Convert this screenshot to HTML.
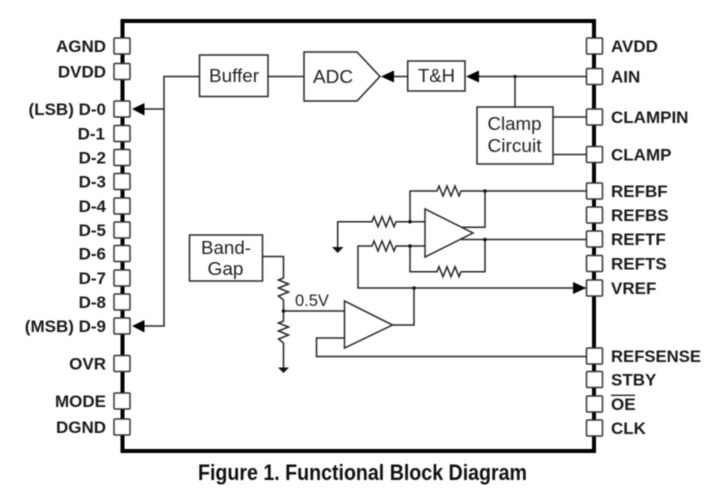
<!DOCTYPE html>
<html><head><meta charset="utf-8"><style>
html,body{margin:0;padding:0;background:#fff;width:720px;height:495px;overflow:hidden}
svg{display:block;filter:blur(.4px)}
text{font-family:"Liberation Sans",Arial,sans-serif;fill:#1c1c1c}
.l{font-weight:700;font-size:17px;text-anchor:end;fill:#1a1a1a}
.r{font-weight:700;font-size:17px;fill:#1a1a1a}
.n{font-size:18.5px;text-anchor:middle;fill:#222}
.w{fill:none;stroke:#262626;stroke-width:1.5}
.b{fill:#fff;stroke:#262626;stroke-width:1.5}
.p{fill:#fff;stroke:#333;stroke-width:1.5}
.a{fill:#000}
.d{fill:#111}
</style></head><body>
<svg width="720" height="495" viewBox="0 0 720 495" xmlns="http://www.w3.org/2000/svg">
<rect x="122.500" y="21" width="471.500" height="430" fill="none" stroke="#000" stroke-width="4"/>

<!-- left pins -->
<g class="p">
<rect x="114" y="38" width="16" height="16" rx="1"/>
<rect x="114" y="63.500" width="16" height="16" rx="1"/>
<rect x="114" y="101" width="16" height="16" rx="1"/>
<rect x="114" y="125.500" width="16" height="16" rx="1"/>
<rect x="114" y="149.500" width="16" height="16" rx="1"/>
<rect x="114" y="173.500" width="16" height="16" rx="1"/>
<rect x="114" y="198" width="16" height="16" rx="1"/>
<rect x="114" y="222" width="16" height="16" rx="1"/>
<rect x="114" y="245.500" width="16" height="16" rx="1"/>
<rect x="114" y="270" width="16" height="16" rx="1"/>
<rect x="114" y="294" width="16" height="16" rx="1"/>
<rect x="114" y="318" width="16" height="16" rx="1"/>
<rect x="114" y="355.500" width="16" height="16" rx="1"/>
<rect x="114" y="393" width="16" height="16" rx="1"/>
<rect x="114" y="419" width="16" height="16" rx="1"/>
</g>
<!-- right pins -->
<g class="p">
<rect x="586.500" y="38" width="16" height="16" rx="1"/>
<rect x="586.500" y="68.500" width="16" height="16" rx="1"/>
<rect x="586.500" y="109" width="16" height="16" rx="1"/>
<rect x="586.500" y="146.500" width="16" height="16" rx="1"/>
<rect x="586.500" y="183" width="16" height="16" rx="1"/>
<rect x="586.500" y="207" width="16" height="16" rx="1"/>
<rect x="586.500" y="231" width="16" height="16" rx="1"/>
<rect x="586.500" y="255.500" width="16" height="16" rx="1"/>
<rect x="586.500" y="280" width="16" height="16" rx="1"/>
<rect x="586.500" y="348" width="16" height="16" rx="1"/>
<rect x="586.500" y="371.500" width="16" height="16" rx="1"/>
<rect x="586.500" y="396" width="16" height="16" rx="1"/>
<rect x="586.500" y="420" width="16" height="16" rx="1"/>
</g>

<!-- left labels -->
<text class="l" x="106" y="52">AGND</text>
<text class="l" x="106" y="77.500">DVDD</text>
<text class="l" x="106" y="115">(LSB) D-0</text>
<text class="l" x="105" y="139.500">D-1</text>
<text class="l" x="106" y="163.500">D-2</text>
<text class="l" x="106" y="187.500">D-3</text>
<text class="l" x="106" y="212">D-4</text>
<text class="l" x="106" y="236">D-5</text>
<text class="l" x="106" y="259.500">D-6</text>
<text class="l" x="106" y="284">D-7</text>
<text class="l" x="106" y="308">D-8</text>
<text class="l" x="106" y="332">(MSB) D-9</text>
<text class="l" x="106" y="369.500">OVR</text>
<text class="l" x="106" y="407">MODE</text>
<text class="l" x="106" y="433">DGND</text>

<!-- right labels -->
<text class="r" x="611" y="52">AVDD</text>
<text class="r" x="611" y="82.500">AIN</text>
<text class="r" x="611" y="123">CLAMPIN</text>
<text class="r" x="611" y="160.500">CLAMP</text>
<text class="r" x="611" y="197">REFBF</text>
<text class="r" x="611" y="221">REFBS</text>
<text class="r" x="611" y="245">REFTF</text>
<text class="r" x="611" y="269.500">REFTS</text>
<text class="r" x="611" y="294">VREF</text>
<text class="r" x="611" y="362" textLength="90" lengthAdjust="spacingAndGlyphs">REFSENSE</text>
<text class="r" x="611" y="385.500">STBY</text>
<text class="r" x="611" y="410">OE</text>
<line x1="611" y1="395.300" x2="635" y2="395.300" stroke="#222" stroke-width="1.300"/>
<text class="r" x="611" y="434">CLK</text>

<!-- wires top -->
<g class="w">
<polyline points="199.500,76.500 164,76.500 164,326 140,326"/>
<line x1="164" y1="109" x2="140" y2="109"/>
<line x1="268" y1="76.500" x2="304" y2="76.500"/>
<line x1="408" y1="76.500" x2="392" y2="76.500"/>
<line x1="586.500" y1="76.500" x2="476" y2="76.500"/>
<line x1="515" y1="76.500" x2="515" y2="107"/>
<line x1="553" y1="117" x2="586.500" y2="117"/>
<line x1="553" y1="154.500" x2="586.500" y2="154.500"/>
</g>
<polygon class="a" points="132,109 144.500,103 144.500,115.500"/>
<polygon class="a" points="132,326 144.500,320 144.500,332.500"/>
<polygon class="a" points="381,76.500 394,70.500 394,82.500"/>
<polygon class="a" points="466,76.500 479,70.500 479,82.500"/>
<circle class="d" cx="515" cy="76.500" r="1.600"/>

<!-- blocks -->
<rect class="b" x="199.500" y="55" width="68.500" height="41.500"/>
<text class="n" x="234" y="82" textLength="50" lengthAdjust="spacingAndGlyphs">Buffer</text>
<polygon class="b" points="304,52 357,52 380,76.500 357,101 304,101"/>
<text class="n" x="333" y="83" textLength="40" lengthAdjust="spacingAndGlyphs">ADC</text>
<rect class="b" x="407.700" y="61" width="57.300" height="30"/>
<text class="n" x="436.500" y="82" textLength="37" lengthAdjust="spacingAndGlyphs">T&amp;H</text>
<rect class="b" x="477" y="107" width="76" height="57"/>
<text class="n" x="514.500" y="130" textLength="54" lengthAdjust="spacingAndGlyphs">Clamp</text>
<text class="n" x="514.500" y="152" textLength="54" lengthAdjust="spacingAndGlyphs">Circuit</text>
<rect class="b" x="189.500" y="235" width="73" height="46"/>
<text class="n" x="226" y="254" textLength="50" lengthAdjust="spacingAndGlyphs">Band-</text>
<text class="n" x="225.500" y="275" textLength="36" lengthAdjust="spacingAndGlyphs">Gap</text>

<!-- bandgap divider -->
<g class="w">
<polyline points="262.500,256.500 283.500,256.500 283.500,278 278.500,280 288.500,284 278.500,288 288.500,292 278.500,296 283.500,300 283.500,321 278.500,323 288.500,327 278.500,331 288.500,335 278.500,339 283.500,343 283.500,368"/>
<line x1="283.500" y1="311" x2="345" y2="311"/>
<!-- lower opamp feedback -->
<polyline points="345,338 316.500,338 316.500,356.500 586.500,356.500"/>
<polyline points="392.500,325 414,325 414,288"/>
<polyline points="586,288 358,288 358,246 372,246 374,241 378,251 382,241 386,251 390,241 394,251 396,246 425,246"/>
<!-- upper opamp input -->
<polyline points="425,221.700 396,221.700 394,226.700 390,216.700 386,226.700 382,216.700 378,226.700 374,216.700 372,221.700 337.700,221.700 337.700,248"/>
<polyline points="410,221.700 410,191 437,191 439,186 443,196 447,186 451,196 455,186 459,196 461,191 586.500,191"/>
<polyline points="485,191 485,227.300 462,227.300"/>
<line x1="461" y1="239.500" x2="586.500" y2="239.500"/>
<polyline points="485,239.500 485,271.700 461,271.700 459,276.700 455,266.700 451,276.700 447,266.700 443,276.700 439,266.700 437,271.700 410,271.700 410,246"/>
</g>

<!-- op amps -->
<polygon class="b" points="425,209 425,257 473,233"/>
<polygon class="b" points="344.500,301 344.500,348 392.500,325"/>

<!-- dots -->
<circle class="d" cx="283.500" cy="311" r="1.800"/>
<circle class="d" cx="410" cy="221.700" r="1.800"/>
<circle class="d" cx="410" cy="246" r="1.800"/>
<circle class="d" cx="485" cy="191" r="1.800"/>
<circle class="d" cx="485" cy="239.500" r="1.800"/>
<circle class="d" cx="414" cy="288" r="1.800"/>

<!-- grounds -->
<polygon class="d" points="332,247 343.500,247 337.700,253"/>
<polygon class="d" points="278,367.500 289,367.500 283.500,373"/>

<polygon class="a" points="586,288 573,282 573,294"/>

<text x="295" y="306" font-size="16.500" style="fill:#222">0.5V</text>

<text x="198" y="480" font-size="22.500" font-weight="700" textLength="329" lengthAdjust="spacingAndGlyphs" style="fill:#111">Figure 1. Functional Block Diagram</text>
</svg>
</body></html>
